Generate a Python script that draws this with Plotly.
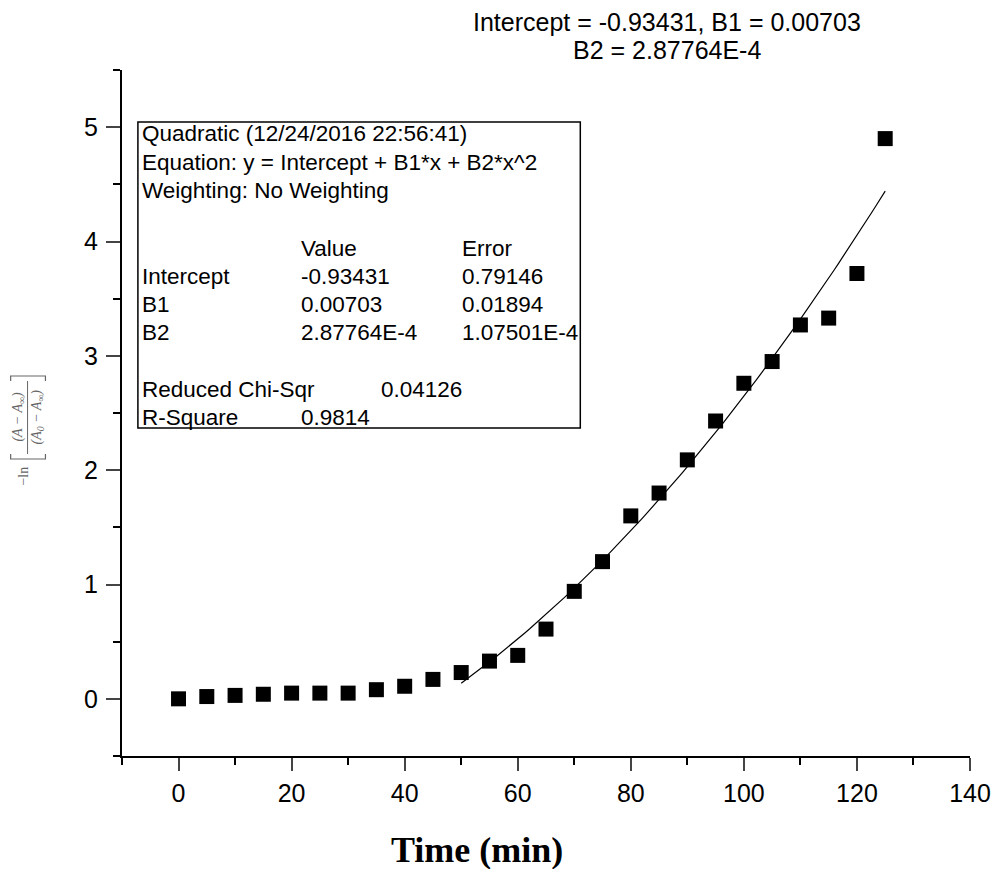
import plotly.graph_objects as go
import numpy as np

# ---- data ----
time_min = [0, 5, 10, 15, 20, 25, 30, 35, 40, 45, 50, 55, 60, 65, 70, 75, 80, 85, 90, 95, 100, 105, 110, 115, 120, 125]
neg_ln_ratio = [0.00, 0.02, 0.03, 0.04, 0.05, 0.05, 0.05, 0.08, 0.11, 0.17, 0.23, 0.33, 0.38, 0.61, 0.94, 1.20,
                1.60, 1.80, 2.09, 2.43, 2.76, 2.95, 3.27, 3.33, 3.72, 4.90]
fit_intercept = -0.93431
fit_b1 = 0.00703
fit_b2 = 2.87764e-4
fit_range = [50, 125]
x_ticks = [0, 20, 40, 60, 80, 100, 120, 140]
y_ticks = [0, 1, 2, 3, 4, 5]

W, H = 1003, 869
L, R, T, B = 122, 975, 70, 756


def px(x):
    return (x - L) / (R - L)


def py(y):
    return (B - y) / (B - T)


fit_x = np.linspace(fit_range[0], fit_range[1], 100)
fit_y = fit_intercept + fit_b1 * fit_x + fit_b2 * fit_x ** 2

fig = go.Figure()
fig.add_trace(go.Scatter(x=fit_x, y=fit_y, mode="lines", line=dict(color="black", width=1.2),
                         showlegend=False, hoverinfo="skip"))
fig.add_trace(go.Scatter(x=time_min, y=neg_ln_ratio, mode="markers",
                         marker=dict(symbol="square", size=15, color="black"), showlegend=False))

font_tick = dict(family="Liberation Sans, Arial", size=25, color="black")

fig.update_layout(
    width=W, height=H,
    margin=dict(l=L, r=W - R, t=T, b=H - B),
    plot_bgcolor="white", paper_bgcolor="white",
    xaxis=dict(range=[-10, 140], tickvals=x_ticks, ticks="outside", ticklen=13, tickwidth=2,
               showline=True, linecolor="black", linewidth=2, showgrid=False, zeroline=False,
               tickfont=font_tick, ticklabelstandoff=1,
               minor=dict(dtick=10, ticks="outside", ticklen=7, tickwidth=2, tickcolor="black", showgrid=False)),
    yaxis=dict(range=[-0.5, 5.5], tickvals=y_ticks, ticks="outside", ticklen=14, tickwidth=2,
               showline=True, linecolor="black", linewidth=2, showgrid=False, zeroline=False,
               tickfont=font_tick, ticklabelstandoff=3,
               minor=dict(dtick=0.5, ticks="outside", ticklen=7, tickwidth=2, tickcolor="black", showgrid=False)),
)

annots = []
# x axis title
annots.append(dict(x=px(479), y=py(850), xref="paper", yref="paper", showarrow=False,
                   xanchor="center", yanchor="middle",
                   text="<b>Time (min)</b>", font=dict(family="Liberation Serif, Times New Roman", size=36, color="black")))
# y axis title: -ln[(A - A_inf)/(A_0 - A_inf)] drawn as a rotated stacked fraction
ylab_font = dict(family="Liberation Serif, Times New Roman", size=14, color="#666666")
annots.append(dict(x=px(22), y=py(476), xref="paper", yref="paper", showarrow=False, textangle=-90,
                   xanchor="center", yanchor="middle", text="−ln", font=ylab_font))
annots.append(dict(x=px(17), y=py(417), xref="paper", yref="paper", showarrow=False, textangle=-90,
                   xanchor="center", yanchor="middle",
                   text="<i>(A − A<sub>∞</sub>)</i>", font=ylab_font))
annots.append(dict(x=px(37), y=py(417), xref="paper", yref="paper", showarrow=False, textangle=-90,
                   xanchor="center", yanchor="middle",
                   text="<i>(A<sub>0</sub> − A<sub>∞</sub>)</i>", font=ylab_font))

# top annotation
top_font = dict(family="Liberation Sans, Arial", size=25, color="black")
annots.append(dict(x=px(670), y=py(22), xref="paper", yref="paper", showarrow=False,
                   xanchor="center", yanchor="middle",
                   text="Intercept = -0.93431, B1 = 0.00703", font=top_font))
annots.append(dict(x=px(670), y=py(50), xref="paper", yref="paper", showarrow=False,
                   xanchor="center", yanchor="middle",
                   text="B2 = 2.87764E-4", font=top_font))

# box text
box_font = dict(family="Liberation Sans, Arial", size=22.5, color="black")
rows = [
    (133, [(140, "Quadratic (12/24/2016 22:56:41)")]),
    (162, [(140, "Equation: y = Intercept + B1*x + B2*x^2")]),
    (190, [(140, "Weighting: No Weighting")]),
    (248, [(300, "Value"), (462, "Error")]),
    (276, [(140, "Intercept"), (300, "-0.93431"), (462, "0.79146")]),
    (304, [(140, "B1"), (300, "0.00703"), (462, "0.01894")]),
    (332, [(140, "B2"), (300, "2.87764E-4"), (462, "1.07501E-4")]),
    (389, [(140, "Reduced Chi-Sqr"), (381, "0.04126")]),
    (417, [(140, "R-Square"), (300, "0.9814")]),
]
for yy, cells in rows:
    for xx, txt in cells:
        annots.append(dict(x=px(xx), y=py(yy), xref="paper", yref="paper", showarrow=False,
                           xanchor="left", yanchor="middle", text=txt, font=box_font))

fig.update_layout(annotations=annots)
fig.add_shape(type="rect", xref="paper", yref="paper", x0=px(138), x1=px(583), y0=py(428), y1=py(122),
              line=dict(color="black", width=1.5), fillcolor="rgba(0,0,0,0)")

# fraction bar and brackets of the y label
gray = "#666666"
fig.add_shape(type="line", xref="paper", yref="paper", x0=px(27), x1=px(27), y0=py(381), y1=py(454),
              line=dict(color=gray, width=1))
fig.add_shape(type="path", xref="paper", yref="paper",
              path=f"M {px(10)},{py(454)} L {px(10)},{py(459)} L {px(45)},{py(459)} L {px(45)},{py(454)}",
              line=dict(color=gray, width=1.2))
fig.add_shape(type="path", xref="paper", yref="paper",
              path=f"M {px(10)},{py(381)} L {px(10)},{py(376)} L {px(45)},{py(376)} L {px(45)},{py(381)}",
              line=dict(color=gray, width=1.2))

fig.write_html("out.html")
